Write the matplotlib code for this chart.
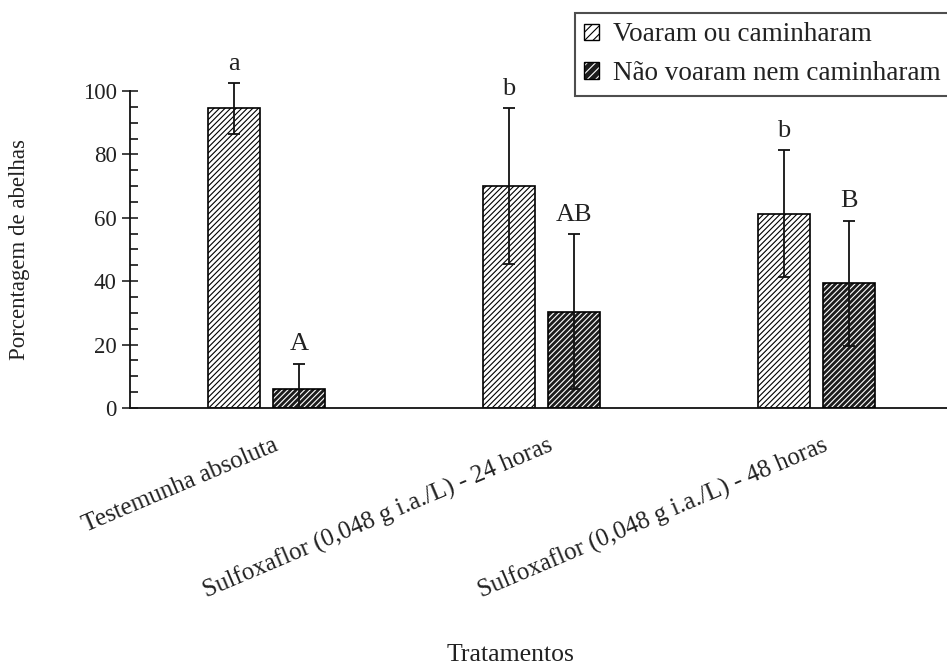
import numpy as np
import matplotlib
matplotlib.use("Agg")
import matplotlib.pyplot as plt
import matplotlib.transforms as mtransforms
from matplotlib.patches import Patch
from matplotlib.legend_handler import HandlerTuple
from matplotlib.ticker import MultipleLocator

categories = ["Testemunha absoluta",
              "Sulfoxaflor (0,048 g i.a./L) - 24 horas",
              "Sulfoxaflor (0,048 g i.a./L) - 48 horas"]
voaram = [94.5, 70.0, 61.3]
voaram_err = [8.0, 24.5, 20.0]
nao_voaram = [6.0, 30.4, 39.3]
nao_voaram_err = [8.0, 24.5, 19.8]
letras_voaram = ["a", "b", "b"]
letras_nao = ["A", "AB", "B"]
serie_nomes = ["Voaram ou caminharam", "Não voaram nem caminharam"]

plt.rcParams['font.family'] = ['Liberation Serif', 'DejaVu Serif']
plt.rcParams['hatch.linewidth'] = 0.8
txt = '#222222'
dark = '#1c1c1c'
hatch = '//////'

fig = plt.figure(figsize=(9.47, 6.71), dpi=100)
ax = fig.add_axes([0.1373, 0.3920, 0.8627, 0.4724])

x = np.arange(len(categories))
w = 0.19
off = 0.118

# light bars: white with black hatch
ax.bar(x - off, voaram, w, color='white', edgecolor='black',
       hatch=hatch, linewidth=1.2, zorder=2)
# dark bars: black with white hatch, then outline
ax.bar(x + off, nao_voaram, w, color=dark, edgecolor='white',
       hatch=hatch, linewidth=0, zorder=2)
ax.bar(x + off, nao_voaram, w, fill=False, edgecolor='black',
       linewidth=1.2, zorder=3)

def draw_err(xs, vals, errs):
    vals = np.array(vals)
    errs = np.array(errs)
    lower = np.minimum(errs, vals)
    ax.errorbar(xs, vals, yerr=[lower, errs], fmt='none', ecolor='#111111',
                elinewidth=1.3, capsize=4, capthick=1.3, zorder=4,
                clip_on=False)

draw_err(x - off, voaram, voaram_err)
draw_err(x + off, nao_voaram, nao_voaram_err)

for xi, v, e, l in zip(x - off, voaram, voaram_err, letras_voaram):
    ax.annotate(l, (xi, v + e), xytext=(0, 6), textcoords='offset points',
                ha='center', va='bottom', fontsize=19, color=txt,
                annotation_clip=False)
for xi, v, e, l in zip(x + off, nao_voaram, nao_voaram_err, letras_nao):
    ax.annotate(l, (xi, v + e), xytext=(0, 6), textcoords='offset points',
                ha='center', va='bottom', fontsize=19, color=txt,
                annotation_clip=False)

ax.set_xlim(-0.496, 2.475)
ax.set_ylim(0, 100)

for s in ['top', 'right']:
    ax.spines[s].set_visible(False)
for s in ['left', 'bottom']:
    ax.spines[s].set_linewidth(1.3)
    ax.spines[s].set_color('#111111')

ax.yaxis.set_major_locator(MultipleLocator(20))
ax.yaxis.set_minor_locator(MultipleLocator(5))
ax.tick_params(axis='y', which='major', direction='inout', length=11,
               width=1.2, labelsize=16.5, pad=4, colors=txt)
ax.tick_params(axis='y', which='minor', direction='in', length=6, width=1.1)

ax.set_xticks(x)
ax.set_xticklabels(categories, rotation=23, ha='right', va='top',
                   rotation_mode='anchor', fontsize=18, color=txt)
ax.tick_params(axis='x', length=0, pad=19)
shift = mtransforms.ScaledTranslation(0.06, 0, fig.dpi_scale_trans)
for lab in ax.get_xticklabels():
    lab.set_transform(lab.get_transform() + shift)

ax.set_ylabel("Porcentagem de abelhas", fontsize=16.5, color=txt)
ax.yaxis.set_label_coords(-0.122, 0.5)
fig.text(510 / 947, 1 - 655 / 671, "Tratamentos", ha='center', va='center',
         fontsize=18.5, color=txt)

h_light = Patch(facecolor='white', edgecolor='black', hatch='////', linewidth=1)
h_dark = (Patch(facecolor=dark, edgecolor='white', hatch='////', linewidth=0),
          Patch(fill=False, edgecolor='black', linewidth=1))
leg = fig.legend([h_light, h_dark], serie_nomes, loc='upper left',
                 bbox_to_anchor=(575 / 947, 1 - 13 / 671),
                 bbox_transform=fig.transFigure, fontsize=19.5,
                 handler_map={tuple: HandlerTuple(ndivide=1, pad=0)},
                 handlelength=0.55, handleheight=0.55, handletextpad=0.5,
                 labelspacing=0.5, borderpad=0.35, borderaxespad=0,
                 fancybox=False, frameon=True)
leg.get_frame().set_edgecolor('#222222')
leg.get_frame().set_linewidth(1.5)
for t in leg.get_texts():
    t.set_color(txt)

fig.savefig("out.png", dpi=100)
